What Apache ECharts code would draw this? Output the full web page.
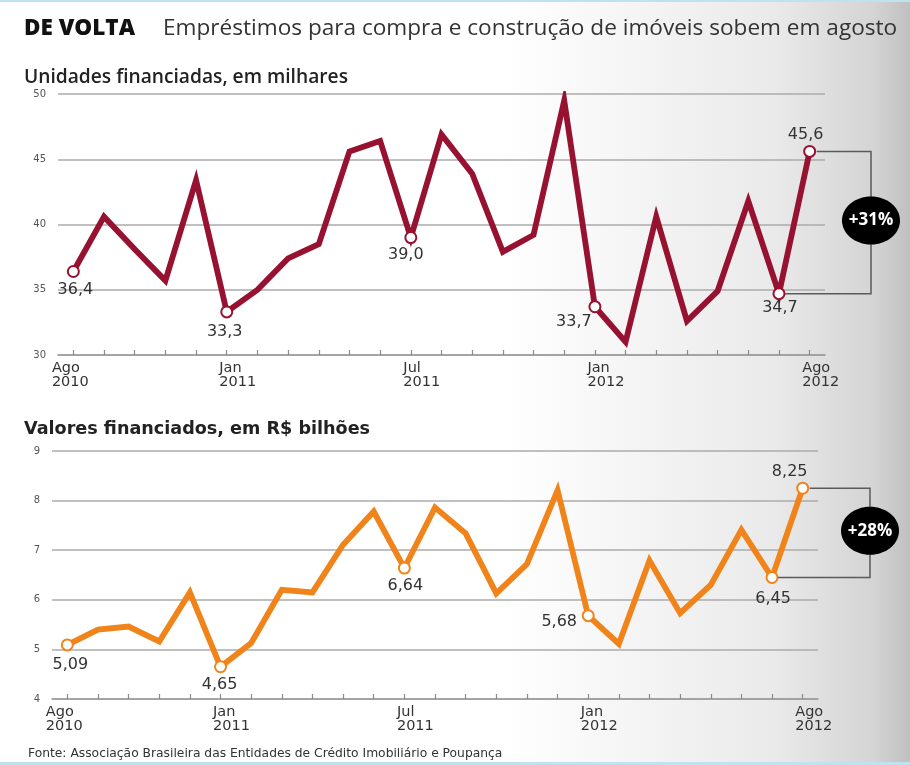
<!DOCTYPE html>
<html><head><meta charset="utf-8">
<script src="https://cdn.jsdelivr.net/npm/echarts@6/dist/echarts.min.js"></script>
<style>html,body{margin:0;padding:0;background:#fff;}#c{width:910px;height:765px;}</style>
</head><body><div id="c"></div>
<script>
// ---- data ----
const months = ['Ago 2010','Set 2010','Out 2010','Nov 2010','Dez 2010','Jan 2011','Fev 2011','Mar 2011','Abr 2011','Mai 2011','Jun 2011','Jul 2011','Ago 2011','Set 2011','Out 2011','Nov 2011','Dez 2011','Jan 2012','Fev 2012','Mar 2012','Abr 2012','Mai 2012','Jun 2012','Jul 2012','Ago 2012'];
const tickLabelIndex = [0, 5, 11, 17, 24];
const tickLabelText = ['Ago\n2010', 'Jan\n2011', 'Jul\n2011', 'Jan\n2012', 'Ago\n2012'];
const unidades = [36.4, 40.6, 38.1, 35.7, 43.4, 33.3, 35.0, 37.4, 38.5, 45.6, 46.4, 39.0, 46.9, 43.9, 37.9, 39.2, 49.5, 33.7, 31.0, 40.6, 32.6, 34.9, 41.8, 34.7, 45.6];
const valores = [5.09, 5.40, 5.46, 5.16, 6.15, 4.65, 5.13, 6.20, 6.15, 7.11, 7.78, 6.64, 7.86, 7.34, 6.13, 6.72, 8.21, 5.68, 5.11, 6.79, 5.73, 6.30, 7.41, 6.45, 8.25];
const labeledIndex = [0, 5, 11, 17, 23, 24];
const unidadesTicks = [30, 35, 40, 45, 50];
const valoresTicks = [4, 5, 6, 7, 8, 9];

// ---- styles ----
const RED = '#961230', ORANGE = '#f0841a';
const unidadesLabelOffset = {0:[2,18], 5:[-2,20], 11:[-5,17], 17:[-21,15], 23:[1,14], 24:[-4,-17]};
const valoresLabelOffset  = {0:[3,20], 5:[-1,18], 11:[1,18], 17:[-29,6], 23:[1,21], 24:[-13,-16]};

function fmt(v, d){ return v.toFixed(d).replace('.', ','); }

function buildData(arr, color, offsets, dec){
  return arr.map((v, i) => {
    if (labeledIndex.indexOf(i) < 0) return {value: v, symbol: 'none'};
    return {
      value: v, symbol: 'circle', symbolSize: 11,
      itemStyle: {color: '#fff', borderColor: color, borderWidth: 2},
      label: {show: true, position: 'inside', offset: offsets[i], formatter: fmt(v, dec),
        color: '#333', fontSize: 16, fontFamily: 'DejaVu Sans', textBorderWidth: 0}
    };
  });
}

function xAxisCfg(gi){
  return {
    type: 'category', gridIndex: gi, data: months, boundaryGap: true,
    axisLine: {lineStyle: {color: '#9a9a9a', width: 1.5}},
    axisTick: {show: true, inside: true, length: 5, alignWithLabel: true, interval: 0, lineStyle: {color: '#8a8a8a', width: 1.2}},
    axisLabel: {
      interval: 0, margin: 6, color: '#333', fontFamily: 'DejaVu Sans', fontSize: 14.5, lineHeight: 14,
      formatter: (val, idx) => {
        const k = tickLabelIndex.indexOf(idx);
        if (k < 0) return '';
        const parts = tickLabelText[k].split('\n');
        const st = k === 0 ? 'f' : 'm';
        return parts.map(p => '{' + st + '|' + p + '}').join('\n');
      },
      rich: {
        f: {align: 'left', fontSize: 14.5, lineHeight: 14, color: '#333', fontFamily: 'DejaVu Sans', padding: [0,6,0,0]},
        m: {align: 'left', fontSize: 14.5, lineHeight: 14, color: '#333', fontFamily: 'DejaVu Sans', padding: [0,0,0,22]}
      }
    },
    splitLine: {show: false}
  };
}
function yAxisCfg(gi, ticks){
  return {
    type: 'value', gridIndex: gi, min: ticks[0], max: ticks[ticks.length-1], interval: ticks[1]-ticks[0],
    axisLine: {show: false}, axisTick: {show: false},
    axisLabel: {color: '#555', fontSize: 10, fontFamily: 'DejaVu Sans', margin: 12},
    splitLine: {lineStyle: {color: '#ababab', width: 1.5}}
  };
}

const chart = echarts.init(document.getElementById('c'), null, {renderer: 'canvas'});
const option = {
  animation: false,
  backgroundColor: new echarts.graphic.LinearGradient(0, 0, 1, 0, [
    {offset: 0, color: '#ffffff'}, {offset: 0.55, color: '#ffffff'},
    {offset: 0.85, color: '#eaeaea'}, {offset: 0.96, color: '#d4d4d4'}, {offset: 1, color: '#c0c0c0'}
  ]),
  grid: [
    {left: 58, right: 85, top: 94, height: 261},
    {left: 52, right: 92, top: 451, height: 248}
  ],
  xAxis: [xAxisCfg(0), xAxisCfg(1)],
  yAxis: [yAxisCfg(0, unidadesTicks), yAxisCfg(1, valoresTicks)],
  series: [
    {type: 'line', xAxisIndex: 0, yAxisIndex: 0, data: buildData(unidades, RED, unidadesLabelOffset, 1),
      symbol: 'circle', showAllSymbol: true, lineStyle: {color: RED, width: 5.8, join: 'miter'}, itemStyle: {color: RED},
      emphasis: {disabled: true}, z: 3},
    {type: 'line', xAxisIndex: 1, yAxisIndex: 1, data: buildData(valores, ORANGE, valoresLabelOffset, 2),
      symbol: 'circle', showAllSymbol: true, lineStyle: {color: ORANGE, width: 5.8, join: 'miter'}, itemStyle: {color: ORANGE},
      emphasis: {disabled: true}, z: 3}
  ]
};
chart.setOption(option);

function bracket(gi, arr, gap){
  const a = chart.convertToPixel({gridIndex: gi}, [arr.length-1, arr[arr.length-1]]);
  const b = chart.convertToPixel({gridIndex: gi}, [arr.length-2, arr[arr.length-2]]);
  const rect = chart.getModel().getComponent('grid', gi).coordinateSystem.getRect();
  const bx = rect.x + rect.width + gap;
  const pct = Math.round((arr[arr.length-1] / arr[arr.length-2] - 1) * 100);
  const cy = (a[1] + b[1]) / 2;
  return [
    {type: 'polyline', z: 10, shape: {points: [[a[0]+7, a[1]], [bx, a[1]], [bx, b[1]], [b[0]+6, b[1]]]},
      style: {stroke: '#5a5a5a', lineWidth: 1.5, fill: null}},
    {type: 'ellipse', z: 11, shape: {cx: bx, cy: cy - 2, rx: 29, ry: 24}, style: {fill: '#000'}},
    {type: 'text', z: 12, x: bx, y: cy - 2, style: {text: '+' + pct + '%', fill: '#fff', font: 'bold 17px "Open Sans"', align: 'center', verticalAlign: 'middle'}}
  ];
}

const graphics = [
  {type: 'rect', shape: {x: 0, y: 0, width: 910, height: 2}, style: {fill: '#bfe1f2'}},
  {type: 'rect', shape: {x: 0, y: 762, width: 910, height: 3}, style: {fill: '#bfe1f2'}},
  {type: 'text', x: 24, y: 29, style: {text: 'DE VOLTA', fill: '#111', font: '800 22.5px "Open Sans"', verticalAlign: 'middle'}},
  {type: 'text', x: 163, y: 29, style: {text: 'Empréstimos para compra e construção de imóveis sobem em agosto', fill: '#333', font: '22.6px "Open Sans"', verticalAlign: 'middle'}},
  {type: 'text', x: 24, y: 78, style: {text: 'Unidades financiadas, em milhares', fill: '#222', font: '600 19.2px "Open Sans"', verticalAlign: 'middle'}},
  {type: 'text', x: 24, y: 429, style: {text: 'Valores financiados, em R$ bilhões', fill: '#222', font: 'bold 17.6px "DejaVu Sans"', verticalAlign: 'middle'}},
  {type: 'text', x: 28, y: 754, style: {text: 'Fonte: Associação Brasileira das Entidades de Crédito Imobiliário e Poupança', fill: '#333', font: '12.3px "DejaVu Sans"', verticalAlign: 'middle'}}
].concat(bracket(0, unidades, 46), bracket(1, valores, 52));
chart.setOption({graphic: graphics});
</script>
</body></html>
